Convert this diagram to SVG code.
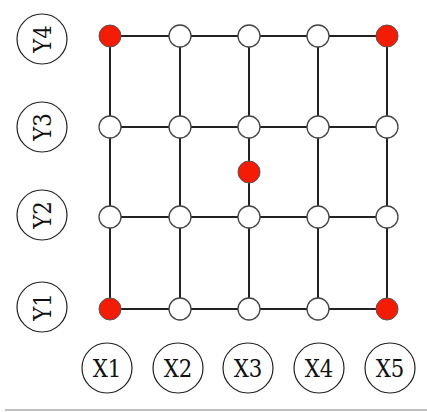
<svg xmlns="http://www.w3.org/2000/svg" width="427" height="412" viewBox="0 0 427 412">
<style>
.e{stroke:#222;stroke-width:2;fill:none}
.n{fill:#fff;stroke:#444;stroke-width:1.3}
.r{fill:#f41c04;stroke:#555;stroke-width:1}
.lc{fill:#fff;stroke:#222;stroke-width:1.2}
.t{font-family:"DejaVu Serif",serif;font-size:25px;fill:#111;text-anchor:middle;dominant-baseline:central}
</style>
<rect width="427" height="412" fill="#fff"/>
<g id="connectors">
<line class="e" x1="110" y1="36" x2="387" y2="36"/>
<line class="e" x1="110" y1="127" x2="387" y2="127"/>
<line class="e" x1="110" y1="217" x2="387" y2="217"/>
<line class="e" x1="110" y1="309" x2="387" y2="309"/>
<line class="e" x1="110" y1="36" x2="110" y2="309"/>
<line class="e" x1="180" y1="36" x2="180" y2="309"/>
<line class="e" x1="249" y1="36" x2="249" y2="309"/>
<line class="e" x1="318" y1="36" x2="318" y2="309"/>
<line class="e" x1="387" y1="36" x2="387" y2="309"/>
</g>
<g id="nodes">
<circle class="r" cx="110" cy="36" r="11"/>
<circle class="n" cx="180" cy="36" r="11"/>
<circle class="n" cx="249" cy="36" r="11"/>
<circle class="n" cx="318" cy="36" r="11"/>
<circle class="r" cx="387" cy="36" r="11"/>
<circle class="n" cx="110" cy="127" r="11"/>
<circle class="n" cx="180" cy="127" r="11"/>
<circle class="n" cx="249" cy="127" r="11"/>
<circle class="n" cx="318" cy="127" r="11"/>
<circle class="n" cx="387" cy="127" r="11"/>
<circle class="r" cx="249" cy="172" r="11"/>
<circle class="n" cx="110" cy="217" r="11"/>
<circle class="n" cx="180" cy="217" r="11"/>
<circle class="n" cx="249" cy="217" r="11"/>
<circle class="n" cx="318" cy="217" r="11"/>
<circle class="n" cx="387" cy="217" r="11"/>
<circle class="r" cx="110" cy="309" r="11"/>
<circle class="n" cx="180" cy="309" r="11"/>
<circle class="n" cx="249" cy="309" r="11"/>
<circle class="n" cx="318" cy="309" r="11"/>
<circle class="r" cx="387" cy="309" r="11"/>
</g>
<g id="label-Y4"><circle class="lc" cx="42" cy="39" r="25"/><text class="t" transform="translate(42,39) rotate(-90) scale(0.85,1)">Y4</text></g>
<g id="label-Y3"><circle class="lc" cx="42" cy="127" r="25"/><text class="t" transform="translate(42,127) rotate(-90) scale(0.85,1)">Y3</text></g>
<g id="label-Y2"><circle class="lc" cx="42" cy="215" r="25"/><text class="t" transform="translate(42,215) rotate(-90) scale(0.85,1)">Y2</text></g>
<g id="label-Y1"><circle class="lc" cx="42" cy="307" r="25"/><text class="t" transform="translate(42,307) rotate(-90) scale(0.85,1)">Y1</text></g>
<g id="label-X1"><circle class="lc" cx="107" cy="368" r="25"/><text class="t" transform="translate(107,368) scale(0.85,1)">X1</text></g>
<g id="label-X2"><circle class="lc" cx="178" cy="368" r="25"/><text class="t" transform="translate(178,368) scale(0.85,1)">X2</text></g>
<g id="label-X3"><circle class="lc" cx="248" cy="368" r="25"/><text class="t" transform="translate(248,368) scale(0.85,1)">X3</text></g>
<g id="label-X4"><circle class="lc" cx="319" cy="368" r="25"/><text class="t" transform="translate(319,368) scale(0.85,1)">X4</text></g>
<g id="label-X5"><circle class="lc" cx="390" cy="368" r="25"/><text class="t" transform="translate(390,368) scale(0.85,1)">X5</text></g>
<line x1="5" y1="410" x2="427" y2="410" stroke="#aaa" stroke-width="1.5"/>
</svg>
